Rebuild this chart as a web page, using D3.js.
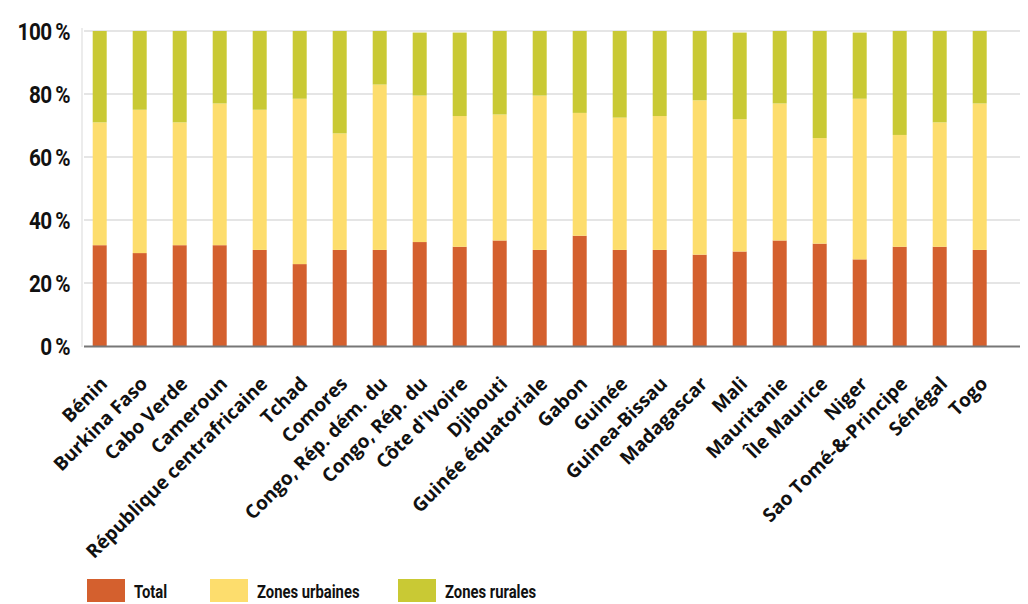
<!DOCTYPE html>
<html><head><meta charset="utf-8">
<script src="https://cdn.jsdelivr.net/npm/d3@7"></script>
<style>body{margin:0;background:#fff}svg{display:block}</style>
</head><body><svg id="c" width="1028" height="604"></svg>
<script>
const categories = ["Bénin","Burkina Faso","Cabo Verde","Cameroun","République centrafricaine","Tchad","Comores","Congo, Rép. dém. du","Congo, Rép. du","Côte d'Ivoire","Djibouti","Guinée équatoriale","Gabon","Guinée","Guinea-Bissau","Madagascar","Mali","Mauritanie","Île Maurice","Niger","Sao Tomé-&-Principe","Sénégal","Togo"];
const total    = [32,29.5,32,32,30.5,26,30.5,30.5,33,31.5,33.5,30.5,35,30.5,30.5,29,30,33.5,32.5,27.5,31.5,31.5,30.5];
const urbaines = [39,45.5,39,45,44.5,52.5,37,52.5,46.5,41.5,40,49,39,42,42.5,49,42,43.5,33.5,51,35.5,39.5,46.5];
const rurales  = [29,25,29,23,25,21.5,32.5,17,20,26.5,26.5,20.5,26,27.5,27,22,27.5,23,34,21,33,29,23];
const seriesNames = ["Total","Zones urbaines","Zones rurales"];
const colors = ["#D4602E","#FDDD6D","#C9C934"];
const yTicks = [0,20,40,60,80,100];

const svg = d3.select("#c");
const x = d3.scaleBand().domain(categories).range([79.7,999.7]).paddingInner(0.65).paddingOuter(0.325);
const y = d3.scaleLinear().domain([0,100]).range([346,31]);

const rows = categories.map((c,i)=>({cat:c,"Total":total[i],"Zones urbaines":urbaines[i],"Zones rurales":rurales[i]}));
const stacked = d3.stack().keys(seriesNames)(rows);

// left faint vertical line
svg.append("line").attr("x1",82).attr("x2",82).attr("y1",28).attr("y2",347).attr("stroke","#e6e6e6").attr("stroke-width",1.5);
// gridlines
svg.append("g").selectAll("line").data(yTicks.filter(d=>d>0)).join("line")
  .attr("x1",84).attr("x2",1020).attr("y1",d=>y(d)).attr("y2",d=>y(d))
  .attr("stroke","#dcdcdc").attr("stroke-width",1.5);

// bars
svg.append("g").selectAll("g").data(stacked).join("g").attr("fill",(d,i)=>colors[i])
  .selectAll("rect").data(d=>d).join("rect")
  .attr("x",d=>x(d.data.cat)).attr("width",x.bandwidth())
  .attr("y",d=>y(d[1])).attr("height",d=>y(d[0])-y(d[1]));

// baseline
svg.append("line").attr("x1",84).attr("x2",1020).attr("y1",y(0)+0.5).attr("y2",y(0)+0.5)
  .attr("stroke","#777").attr("stroke-width",2);

// y axis labels
const yAxis = d3.axisLeft(y).tickValues(yTicks).tickFormat(d=>d+"\u2009%").tickSize(0).tickPadding(0);
const ga = svg.append("g").attr("transform","translate(70,0)").call(yAxis);
ga.select(".domain").remove();
ga.selectAll("text").attr("font-family","Roboto, sans-serif").attr("font-weight",700)
  .attr("font-size",23.5).attr("fill","#111").attr("letter-spacing",-0.6).attr("dy","0.36em")
  .attr("transform","scale(0.88,1)");

// x labels
const xAxis = d3.axisBottom(x).tickSize(0).tickPadding(0);
const gx = svg.append("g").attr("transform","translate(0,352)").call(xAxis);
gx.select(".domain").remove();
gx.selectAll("text").attr("font-family","'Open Sans', sans-serif").attr("font-weight",700)
  .attr("font-size",19).attr("fill","#111").attr("text-anchor","end")
  .attr("y",0).attr("dy","0").attr("transform","translate(9,33) rotate(-45)");

// legend
const lx = [87,210,398];
const lg = svg.append("g").selectAll("g").data(seriesNames).join("g")
  .attr("transform",(d,i)=>`translate(${lx[i]},579)`);
lg.append("rect").attr("width",38).attr("height",23).attr("fill",(d,i)=>colors[i]);
lg.append("text").attr("x",47/0.78).attr("y",12).attr("dy","0.36em").text(d=>d)
  .attr("font-family","Roboto, sans-serif").attr("font-weight",700).attr("font-size",19)
  .attr("transform","scale(0.78,1)").attr("fill","#111");
</script></body></html>
